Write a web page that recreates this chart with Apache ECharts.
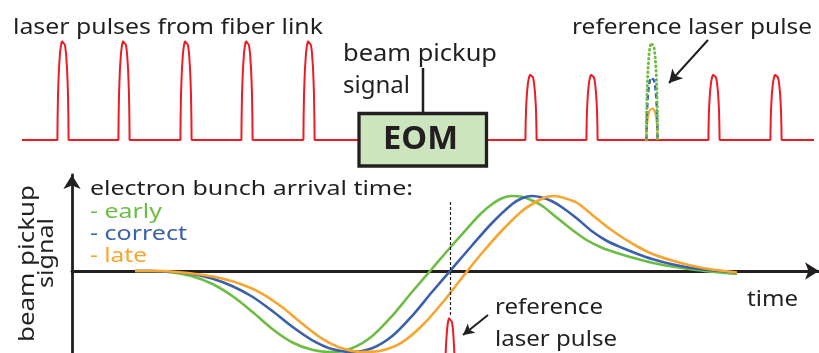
<!DOCTYPE html>
<html><head><meta charset="utf-8">
<script src="https://cdn.jsdelivr.net/npm/echarts@6/dist/echarts.min.js"></script>
<style>html,body{margin:0;padding:0;background:#fff}#c{width:819px;height:353px}</style>
</head><body><div id="c"></div>
<script>
// ---------------- data ----------------
// shape of one laser pulse (offset in time, fraction of amplitude)
const pulseOffsets = [-5.6, -5.4, -5.0, -4.5, -4, -3, -2, -1, 0, 1, 2, 3, 4, 4.5, 5.0, 5.4, 5.6];
const pulseShape   = [0, 0.22, 0.45, 0.6, 0.72, 0.87, 0.95, 0.99, 1, 0.99, 0.95, 0.87, 0.72, 0.6, 0.45, 0.22, 0];

// upper pulse train (time units on the upper axis)
const fiberSpan = [22, 358];
const fiberPulseTimes = [63, 124, 186, 247, 309];
const fiberPulseAmp = 1.0;
const eomSpan = [487, 814];
const eomPulseTimes = [531, 592, 714, 776];
const eomPulseAmp = 0.66;
const refPulseTime = 652;
const refAmpLate = 0.32, refAmpCorrect = 0.63, refAmpEarly = 0.98;

// beam pickup signal (lower chart)
const timeEarly = [6.3, 8, 10, 12, 14, 16, 18, 20, 22, 24, 26, 28, 30, 32, 34, 36, 38, 40, 41, 42, 43, 44, 45, 46, 47, 48.5, 50, 51.5, 53, 54.5, 56, 58, 60, 62, 64, 66.5];
const sigEarly  = [0, 0, -0.02, -0.07, -0.17, -0.33, -0.54, -0.77, -0.95, -1.05, -1.08, -1.03, -0.87, -0.6, -0.28, 0.03, 0.34, 0.64, 0.78, 0.89, 0.97, 1.0, 0.99, 0.94, 0.87, 0.71, 0.55, 0.41, 0.31, 0.24, 0.18, 0.11, 0.06, 0.02, -0.01, -0.04];
const timeCorrect = [6.3, 8, 10, 12, 14, 16, 18, 20, 22, 24, 26, 28, 30, 32, 34, 36, 38, 40, 42, 44, 45, 46, 47, 48, 49, 50.5, 52, 53.5, 55, 56.5, 58, 60, 62, 64, 66.5];
const sigCorrect  = [0, 0, -0.01, -0.04, -0.1, -0.2, -0.34, -0.53, -0.74, -0.92, -1.04, -1.08, -1.03, -0.87, -0.6, -0.28, 0.03, 0.34, 0.64, 0.89, 0.97, 1.0, 0.98, 0.93, 0.85, 0.7, 0.53, 0.4, 0.31, 0.23, 0.16, 0.09, 0.04, 0.01, -0.02];
const timeLate = [6.3, 9, 11, 13, 15, 17, 19, 21, 23, 25, 27, 29, 31, 33, 35, 37, 39, 41, 43, 45, 46.5, 47.5, 48.3, 49.3, 50.5, 52, 53.5, 55, 56.5, 58, 60, 62, 64, 66.5];
const sigLate  = [0, 0, -0.02, -0.05, -0.1, -0.18, -0.3, -0.48, -0.7, -0.9, -1.03, -1.08, -1.06, -0.95, -0.73, -0.43, -0.09, 0.24, 0.54, 0.8, 0.93, 0.99, 1.0, 0.97, 0.91, 0.75, 0.59, 0.45, 0.33, 0.23, 0.14, 0.07, 0.02, -0.02];

// reference laser pulse in lower chart
const refTimeLower = 37.8;
const refPeakLower = -0.613;
const refHeightLower = 1.333;
const lowerTimePerUpper = 0.1;

// ---------------- colors ----------------
const RED = '#ec1c24', GREEN = '#6dbd45', BLUE = '#3b60ad', ORANGE = '#f7a531', INK = '#231f20';

// ---------------- build ----------------
function train(span, times, amp) {
  const d = [[span[0], 0]];
  times.forEach(c => pulseOffsets.forEach((o, i) => d.push([c + o, amp * pulseShape[i]])));
  d.push([span[1], 0]);
  return d;
}
function single(t, amp) { return pulseOffsets.map((o, i) => [t + o, amp * pulseShape[i]]); }
function zip(a, b) { return a.map((v, i) => [v, b[i]]); }
const lowerRef = pulseOffsets.map((o, i) => [refTimeLower + o * lowerTimePerUpper, refPeakLower - refHeightLower + refHeightLower * pulseShape[i]]);

const mctx = document.createElement('canvas').getContext('2d');
const FAM = '"Noto Sans"';
function label(text, o) {
  const font = (o.weight || 'normal') + ' ' + o.size + 'px ' + FAM;
  mctx.font = font;
  const sx = o.width / mctx.measureText(text).width;
  const base = {type: 'text', silent: true, z: 20, scaleX: sx,
    style: {text: text, font: font, fill: o.color || INK, verticalAlign: 'middle'}};
  if (o.rot) {
    base.rotation = Math.PI / 2;
    base.x = o.base - 0.37 * o.size;
    base.y = o.cy;
    base.style.align = 'center';
  } else {
    base.x = o.x;
    base.y = o.base - 0.37 * o.size;
    base.style.align = 'left';
  }
  return base;
}

const common = {type: 'line', symbol: 'none', silent: true, animation: false};

const option = {
  animation: false,
  grid: [
    {left: 0, right: 0, top: 30, height: 120},
    {left: 72, right: 0, top: 175, bottom: 0}
  ],
  xAxis: [
    {gridIndex: 0, type: 'value', min: 0, max: 819, show: false},
    {gridIndex: 1, type: 'value', min: 0, max: 74.7,
      axisLine: {show: true, onZero: true, symbol: ['none', 'arrow'], symbolSize: [13, 14], lineStyle: {color: INK, width: 2.8}},
      axisTick: {show: false}, axisLabel: {show: false}, splitLine: {show: false}}
  ],
  yAxis: [
    {gridIndex: 0, type: 'value', min: -0.1, max: 1.1, show: false},
    {gridIndex: 1, type: 'value', min: -1.093, max: 1.28,
      axisLine: {show: true, onZero: false, symbol: ['none', 'arrow'], symbolSize: [13, 14], lineStyle: {color: INK, width: 2.8}},
      axisTick: {show: false}, axisLabel: {show: false}, splitLine: {show: false}}
  ],
  series: [
    Object.assign({}, common, {xAxisIndex: 0, yAxisIndex: 0, data: train(fiberSpan, fiberPulseTimes, fiberPulseAmp),
      lineStyle: {color: RED, width: 2},
      markLine: {silent: true, animation: false, symbol: ['none', 'arrow'], symbolSize: [11, 13], label: {show: false},
        lineStyle: {color: INK, width: 2, type: 'solid'},
        data: [[{coord: [708, 1.0]}, {coord: [669, 0.57]}]]}}),
    Object.assign({}, common, {xAxisIndex: 0, yAxisIndex: 0, data: train(eomSpan, eomPulseTimes, eomPulseAmp), lineStyle: {color: RED, width: 2}}),
    Object.assign({}, common, {xAxisIndex: 0, yAxisIndex: 0, data: single(refPulseTime, refAmpLate), lineStyle: {color: ORANGE, width: 2}, z: 3}),
    Object.assign({}, common, {xAxisIndex: 0, yAxisIndex: 0, data: single(refPulseTime, refAmpCorrect), lineStyle: {color: BLUE, width: 2.4, type: [5, 3]}, z: 4}),
    Object.assign({}, common, {xAxisIndex: 0, yAxisIndex: 0, data: single(refPulseTime, refAmpEarly), lineStyle: {color: GREEN, width: 3, type: [0.5, 4], cap: 'round'}, z: 5}),
    Object.assign({}, common, {xAxisIndex: 1, yAxisIndex: 1, data: zip(timeEarly, sigEarly), smooth: 0.3, lineStyle: {color: GREEN, width: 2.6}}),
    Object.assign({}, common, {xAxisIndex: 1, yAxisIndex: 1, data: zip(timeCorrect, sigCorrect), smooth: 0.3, lineStyle: {color: BLUE, width: 2.6}}),
    Object.assign({}, common, {xAxisIndex: 1, yAxisIndex: 1, data: zip(timeLate, sigLate), smooth: 0.3, lineStyle: {color: ORANGE, width: 2.6}}),
    Object.assign({}, common, {xAxisIndex: 1, yAxisIndex: 1, data: lowerRef, lineStyle: {color: RED, width: 2},
      markLine: {silent: true, animation: false, symbol: ['none', 'arrow'], symbolSize: [9, 11], label: {show: false},
        lineStyle: {color: INK, width: 2, type: 'solid'},
        data: [
          [{coord: [41.6, -0.587]}, {coord: [39.1, -0.853]}],
          [{coord: [refTimeLower, 0.92], symbol: 'none', lineStyle: {type: [3, 2], width: 1.2, color: INK}}, {coord: [refTimeLower, -0.59], symbol: 'none'}]
        ]}})
  ],
  graphic: [
    {type: 'line', silent: true, z: 15, shape: {x1: 423, y1: 68, x2: 423, y2: 113}, style: {stroke: INK, lineWidth: 2.5}},
    {type: 'rect', silent: true, z: 15, shape: {x: 359, y: 113.5, width: 127.5, height: 52.5}, style: {fill: '#cde5bf', stroke: INK, lineWidth: 3.3}},
    label('EOM', {x: 383, base: 152, size: 32, width: 75, weight: 'bold'}),
    label('laser pulses from fiber link', {x: 13, base: 36, size: 22, width: 310}),
    label('reference laser pulse', {x: 572, base: 36, size: 22, width: 240}),
    label('beam pickup', {x: 343, base: 63, size: 23, width: 154}),
    label('signal', {x: 343, base: 95, size: 23, width: 67}),
    label('electron bunch arrival time:', {x: 90, base: 197, size: 20, width: 323}),
    label('- early', {x: 90, base: 220, size: 20, width: 72, color: GREEN}),
    label('- correct', {x: 90, base: 242, size: 20, width: 97, color: BLUE}),
    label('- late', {x: 90, base: 264, size: 20, width: 57, color: ORANGE}),
    label('time', {x: 747, base: 308, size: 22, width: 51}),
    label('reference', {x: 495, base: 316, size: 22, width: 108}),
    label('laser pulse', {x: 495, base: 348, size: 22, width: 122}),
    label('beam pickup', {rot: true, base: 36, cy: 263.5, size: 22, width: 157}),
    label('signal', {rot: true, base: 55, cy: 253, size: 22, width: 70})
  ]
};
const chart = echarts.init(document.getElementById('c'), null, {renderer: 'canvas'});
chart.setOption(option);
</script></body></html>
